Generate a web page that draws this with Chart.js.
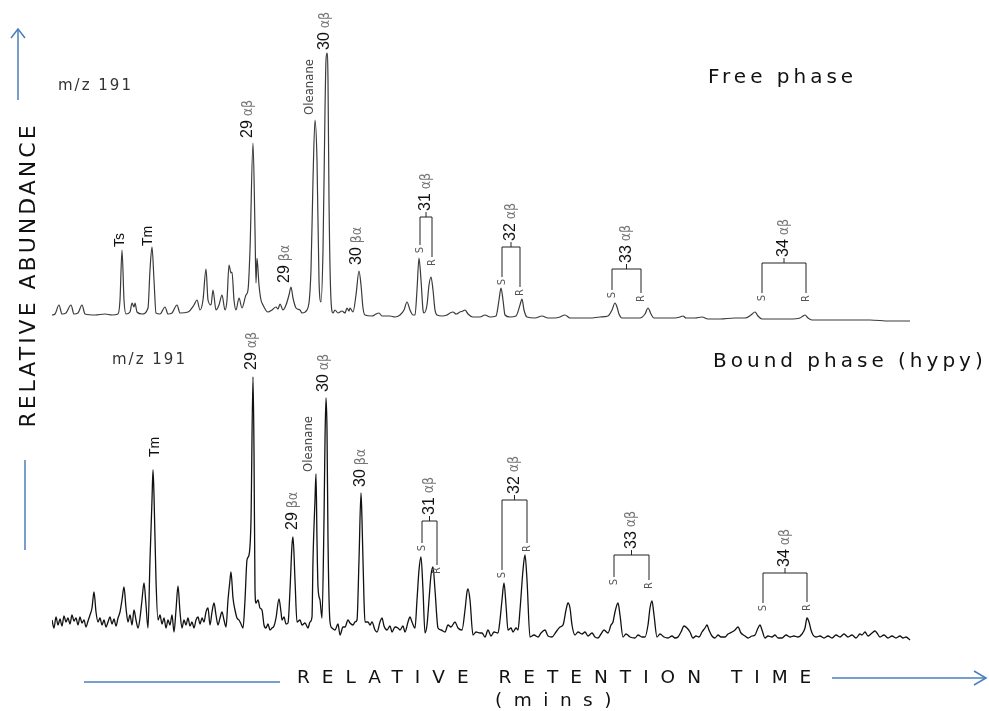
<!DOCTYPE html>
<html>
<head>
<meta charset="utf-8">
<script src="https://cdn.jsdelivr.net/npm/chart.js@4"></script>
<style>
  body { margin: 0; background: #fff; }
  #wrap { position: relative; width: 989px; height: 711px; overflow: hidden; }
  #wrap canvas, #wrap svg { position: absolute; left: 0; top: 0; }
  .txt { position: absolute; font-family: "DejaVu Sans", Verdana, sans-serif; color: #111; white-space: nowrap; line-height: 1; }
</style>
</head>
<body>
<div id="wrap">
  <canvas id="chart" width="989" height="711"></canvas>
  <svg width="989" height="711" fill="none" stroke="#4a7ebb" stroke-width="1.5">
    <line x1="18" y1="29" x2="18" y2="100"/>
    <polyline points="11,38 18,29 25,38"/>
    <line x1="25" y1="460" x2="25" y2="550"/>
    <line x1="84" y1="682" x2="280" y2="682"/>
    <line x1="832" y1="678" x2="986" y2="678"/>
    <polyline points="974,671 986,678 974,685"/>
  </svg>
  <div class="txt" style="left:58px;top:78px;font-size:15px;letter-spacing:2px;color:#333">m/z 191</div>
  <div class="txt" style="left:708px;top:66px;font-size:20px;letter-spacing:4px">Free phase</div>
  <div class="txt" style="left:713px;top:350px;font-size:20px;letter-spacing:4px">Bound phase (hypy)</div>
  <div class="txt" style="left:112px;top:352px;font-size:15px;letter-spacing:2px;color:#333">m/z 191</div>
  <div class="txt" style="left:297px;top:668px;font-size:18.5px;letter-spacing:12px">RELATIVE RETENTION TIME</div>
  <div class="txt" style="left:495px;top:691px;font-size:18.5px;letter-spacing:11.5px">(mins)</div>
  <div class="txt" style="left:28px;top:275px;font-size:22px;letter-spacing:3px;transform:translate(-50%,-50%) rotate(-90deg)">RELATIVE ABUNDANCE</div>
</div>
<script>
// m/z 191 traces: [retention time, abundance]
const freeTrace = [
  [52,15],[55,16],[59,25],[62,16],[66,17],[71,25],[74,16],[78,17],[82,25],[85,16],
  [95,15],[105,16],[112,15],[118,16],[120,30],[122,80],[124,30],[126,16],[130,18],[132,27],
  [134,23],[135,27],[137,18],[142,16],[148,22],[150,60],[152,83],[154,50],[156,17],[160,16],
  [165,23],[168,16],[172,17],[177,25],[180,17],[188,18],[194,25],[197,30],[200,20],[203,30],
  [206,61],[208,30],[211,25],[213,40],[216,20],[219,25],[222,35],[225,20],[227,30],[229,65],
  [231,57],[232,58],[234,30],[236,20],[239,32],[242,22],[246,35],[248,40],[250,80],[253,187],
  [255,100],[256,47],[257,72],[259,45],[261,30],[263,25],[268,18],[272,20],[276,23],[278,21],
  [280,26],[283,20],[286,25],[289,35],[291,43],[293,32],[296,22],[300,20],[302,17],[307,20],
  [311,60],[313,150],[315,210],[317,170],[319,50],[321,28],[323,80],[325,220],[326,270],[327,277],
  [328,250],[329,130],[331,30],[333,17],[335,20],[338,17],[342,19],[345,17],[347,22],[349,19],
  [350,22],[353,18],[356,35],[359,59],[361,45],[363,22],[365,15],[372,14],[376,16],[379,17],
  [382,14],[390,14],[395,13],[400,15],[404,20],[407,28],[410,20],[413,15],[415,15],[417,40],
  [419,72],[421,50],[423,20],[424,17],[427,25],[429,45],[431,53],[433,40],[435,20],[437,15],
  [442,14],[447,15],[450,17],[453,18],[456,16],[460,18],[463,19],[465,20],[468,16],[473,13],
  [480,13],[485,15],[490,13],[496,14],[499,30],[501,42],[503,30],[505,15],[510,13],[516,14],
  [520,25],[522,31],[524,20],[527,13],[535,12],[542,14],[548,12],[555,12],[560,13],[565,15],
  [570,12],[580,12],[590,12],[600,13],[608,14],[612,20],[615,27],[617,23],[619,16],[622,12],
  [630,12],[640,12],[645,16],[648,22],[651,16],[654,12],[665,12],[675,12],[680,13],[683,14],
  [686,12],[695,12],[702,13],[708,11],[720,11],[735,12],[745,12],[751,15],[755,18],[758,14],
  [762,11],[775,11],[790,11],[800,12],[803,14],[805,15],[808,12],[812,10],[830,10],[850,10],
  [870,10],[890,9],[910,9]
];

const boundTrace = [
  [52,25],[54,17],[56,28],[58,20],[60,26],[62,19],[64,29],[66,23],[68,27],[70,21],
  [72,30],[74,24],[76,27],[78,20],[80,28],[82,22],[84,25],[86,18],[88,24],[90,30],
  [92,37],[94,53],[96,33],[98,23],[100,27],[102,20],[104,25],[106,18],[108,23],[110,28],
  [112,21],[114,26],[116,19],[118,27],[120,33],[122,45],[124,58],[126,37],[128,23],[130,30],
  [132,20],[134,35],[136,25],[138,17],[140,27],[142,45],[144,62],[146,40],[148,17],[150,85],
  [152,145],[153,175],[154,150],[156,65],[158,25],[160,30],[162,21],[164,27],[166,17],[168,25],
  [170,20],[172,30],[174,13],[176,35],[178,59],[180,33],[182,17],[184,25],[186,20],[188,27],
  [190,19],[192,23],[194,17],[196,25],[198,28],[200,21],[202,27],[204,23],[206,33],[208,37],
  [210,20],[212,33],[214,42],[216,30],[218,20],[220,27],[222,33],[224,25],[226,18],[228,45],
  [230,65],[231,73],[233,47],[235,35],[237,27],[239,25],[241,21],[243,17],[245,45],[247,85],
  [249,90],[251,125],[253,268],[254,195],[255,55],[256,42],[258,45],[260,37],[262,35],[264,20],
  [266,17],[268,21],[270,15],[272,17],[274,19],[276,27],[279,46],[281,33],[282,25],[284,28],
  [286,21],[288,22],[290,55],[292,100],[293,108],[295,65],[297,23],[300,25],[302,20],[305,22],
  [308,17],[310,23],[312,28],[313,85],[315,145],[316,171],[317,105],[318,58],[320,45],[322,27],
  [324,125],[325,205],[326,247],[327,215],[328,105],[330,23],[332,17],[335,15],[338,21],[340,10],
  [343,18],[345,18],[348,25],[350,22],[353,20],[355,23],[357,25],[359,85],[361,152],[362,125],
  [364,45],[365,23],[368,23],[370,20],[372,23],[375,15],[377,13],[380,23],[382,27],[384,19],
  [387,15],[390,19],[392,13],[395,18],[398,17],[400,15],[403,19],[405,13],[408,23],[410,28],
  [412,23],[415,17],[417,45],[419,75],[421,88],[423,55],[425,12],[427,20],[429,45],[431,70],
  [433,78],[435,55],[438,17],[441,15],[445,13],[448,20],[451,18],[455,23],[458,17],[462,15],
  [465,35],[467,53],[468,56],[470,45],[473,10],[476,13],[480,12],[482,12],[485,8],[488,15],
  [491,9],[494,13],[498,12],[500,25],[502,45],[504,62],[506,40],[508,15],[511,17],[513,13],
  [516,17],[518,15],[520,35],[523,75],[525,90],[527,65],[530,8],[534,10],[538,8],[541,12],
  [545,15],[548,9],[552,8],[556,13],[560,18],[563,20],[566,35],[568,42],[570,37],[572,20],
  [575,10],[578,13],[582,11],[585,13],[588,9],[592,12],[595,8],[598,7],[601,11],[604,15],
  [608,12],[611,20],[613,23],[615,33],[618,42],[620,30],[623,8],[626,11],[630,8],[635,7],
  [638,10],[642,8],[645,8],[648,20],[650,37],[652,44],[654,30],[657,8],[660,11],[664,8],
  [668,7],[672,9],[675,7],[678,8],[681,13],[684,19],[687,17],[690,13],[693,7],[696,9],
  [699,8],[702,13],[705,17],[707,20],[709,15],[712,9],[715,7],[718,10],[721,8],[725,8],
  [728,11],[732,13],[735,15],[738,18],[741,12],[745,9],[748,7],[752,9],[755,10],[758,17],
  [760,20],[762,15],[765,7],[768,9],[772,8],[775,10],[778,7],[782,7],[786,10],[790,8],
  [794,9],[798,8],[802,11],[805,17],[807,27],[809,23],[811,15],[813,10],[816,8],[820,9],
  [824,7],[828,9],[832,7],[836,10],[840,8],[844,11],[848,8],[852,10],[856,7],[860,11],
  [862,10],[865,13],[868,9],[872,12],[875,14],[877,12],[880,8],[884,10],[888,7],[892,9],
  [896,7],[900,9],[903,7],[906,8],[910,5]
];

// identified peaks
const freePeaks = ["Ts", "Tm", "29 αβ", "29 βα", "Oleanane", "30 αβ", "30 βα"];
const freePeakTimes = [122, 152, 253, 291, 315, 327, 359];
const boundPeaks = ["Tm", "29 αβ", "29 βα", "Oleanane", "30 αβ", "30 βα"];
const boundPeakTimes = [153, 253, 293, 316, 326, 361];
const homohopanes = ["31 αβ", "32 αβ", "33 αβ", "34 αβ"];

// label placement (px nudges) and S/R bracket layout, kept apart from the data
const freeLabelNudge = [[-2, 3], [-4, 1], [-5, 5], [-6, 4], [-5, 5], [-2, 3], [-2, 6]];
const boundLabelNudge = [[2, 13], [-1, 7], [0, 7], [-7, 2], [-2, 6], [0, 6]];
const freeBrackets = [
  { sx: 420, rx: 432, bar: 113, s: 85, r: 73 },
  { sx: 502, rx: 520, bar: 83, s: 53, r: 43 },
  { sx: 612, rx: 641, bar: 61, s: 40, r: 37 },
  { sx: 762, rx: 806, bar: 67, s: 37, r: 37 }
];
const boundBrackets = [
  { sx: 422, rx: 437, bar: 124, s: 102, r: 80 },
  { sx: 502, rx: 527, bar: 145, s: 75, r: 102 },
  { sx: 614, rx: 649, bar: 90, s: 68, r: 65 },
  { sx: 763, rx: 807, bar: 72, s: 42, r: 43 }
];

const NUM_FONT = '16px "Liberation Sans", Arial, sans-serif';
const NARROW = '"Liberation Sans Narrow", "DejaVu Sans Condensed", sans-serif';

function drawVertical(ctx, x, y, parts, align) {
  ctx.save();
  ctx.translate(x, y);
  ctx.rotate(-Math.PI / 2);
  ctx.textBaseline = "middle";
  let total = 0;
  parts.forEach((p) => { ctx.font = p.font; p.w = ctx.measureText(p.text).width; total += p.w + (p.gap || 0); });
  let pos = align === "right" ? -total : 0;
  ctx.textAlign = "left";
  parts.forEach((p) => {
    pos += p.gap || 0;
    ctx.font = p.font;
    ctx.fillStyle = p.color;
    ctx.fillText(p.text, pos, 0);
    pos += p.w;
  });
  ctx.restore();
}

function labelParts(name) {
  if (name === "Oleanane") return [{ text: name, font: "13px " + NARROW, color: "#444" }];
  if (name === "Ts" || name === "Tm") return [{ text: name, font: '14px "Liberation Sans", Arial, sans-serif', color: "#111" }];
  const [num, greek] = name.split(" ");
  return [
    { text: num, font: NUM_FONT, color: "#111" },
    { text: greek, font: "14px " + NARROW, color: "#777", gap: 4 }
  ];
}

function apexOf(trace, t) {
  let best = -Infinity;
  trace.forEach(([x, y]) => { if (Math.abs(x - t) <= 2 && y > best) best = y; });
  return best;
}

const peakLabels = {
  id: "peakLabels",
  afterDatasetsDraw(chart) {
    const ctx = chart.ctx;
    const xs = chart.scales.x;
    const groups = [
      { trace: freeTrace, y: chart.scales.yFree, names: freePeaks, times: freePeakTimes, nudge: freeLabelNudge, brackets: freeBrackets },
      { trace: boundTrace, y: chart.scales.yBound, names: boundPeaks, times: boundPeakTimes, nudge: boundLabelNudge, brackets: boundBrackets }
    ];
    groups.forEach((g) => {
      g.names.forEach((name, i) => {
        const px = xs.getPixelForValue(g.times[i]) + g.nudge[i][0];
        const py = g.y.getPixelForValue(apexOf(g.trace, g.times[i])) - g.nudge[i][1];
        drawVertical(ctx, px, py, labelParts(name), "left");
      });
      g.brackets.forEach((b, i) => {
        const sx = xs.getPixelForValue(b.sx), rx = xs.getPixelForValue(b.rx);
        const bar = g.y.getPixelForValue(b.bar);
        const sy = g.y.getPixelForValue(b.s), ry = g.y.getPixelForValue(b.r);
        const cx = (sx + rx) / 2;
        ctx.save();
        ctx.strokeStyle = "#222";
        ctx.lineWidth = 1;
        ctx.beginPath();
        ctx.moveTo(sx, sy); ctx.lineTo(sx, bar); ctx.lineTo(rx, bar); ctx.lineTo(rx, ry);
        ctx.moveTo(cx, bar); ctx.lineTo(cx, bar - 5);
        ctx.stroke();
        ctx.restore();
        drawVertical(ctx, cx, bar - 6, labelParts(homohopanes[i]), "left");
        drawVertical(ctx, sx, sy + 2, [{ text: "S", font: "11px " + NARROW, color: "#555" }], "right");
        drawVertical(ctx, rx, ry + 2, [{ text: "R", font: "11px " + NARROW, color: "#555" }], "right");
      });
    });
  }
};

new Chart(document.getElementById("chart"), {
  type: "line",
  data: {
    datasets: [
      {
        label: "Free phase",
        data: freeTrace.map(([x, y]) => ({ x, y })),
        yAxisID: "yFree",
        borderColor: "#3a3a3a",
        borderWidth: 1.2,
        pointRadius: 0,
        cubicInterpolationMode: "monotone",
        fill: false
      },
      {
        label: "Bound phase (hypy)",
        data: boundTrace.map(([x, y]) => ({ x, y })),
        yAxisID: "yBound",
        borderColor: "#111",
        borderWidth: 1.3,
        pointRadius: 0,
        cubicInterpolationMode: "monotone",
        fill: false
      }
    ]
  },
  options: {
    responsive: false,
    animation: false,
    devicePixelRatio: 1,
    layout: { padding: { left: 52, right: 77, top: 0, bottom: 0 } },
    plugins: { legend: { display: false }, tooltip: { enabled: false } },
    scales: {
      x: { type: "linear", min: 52, max: 912, display: false },
      yFree: { min: -381, max: 330, display: false },
      yBound: { min: -66, max: 645, display: false }
    }
  },
  plugins: [peakLabels]
});
</script>
</body>
</html>
